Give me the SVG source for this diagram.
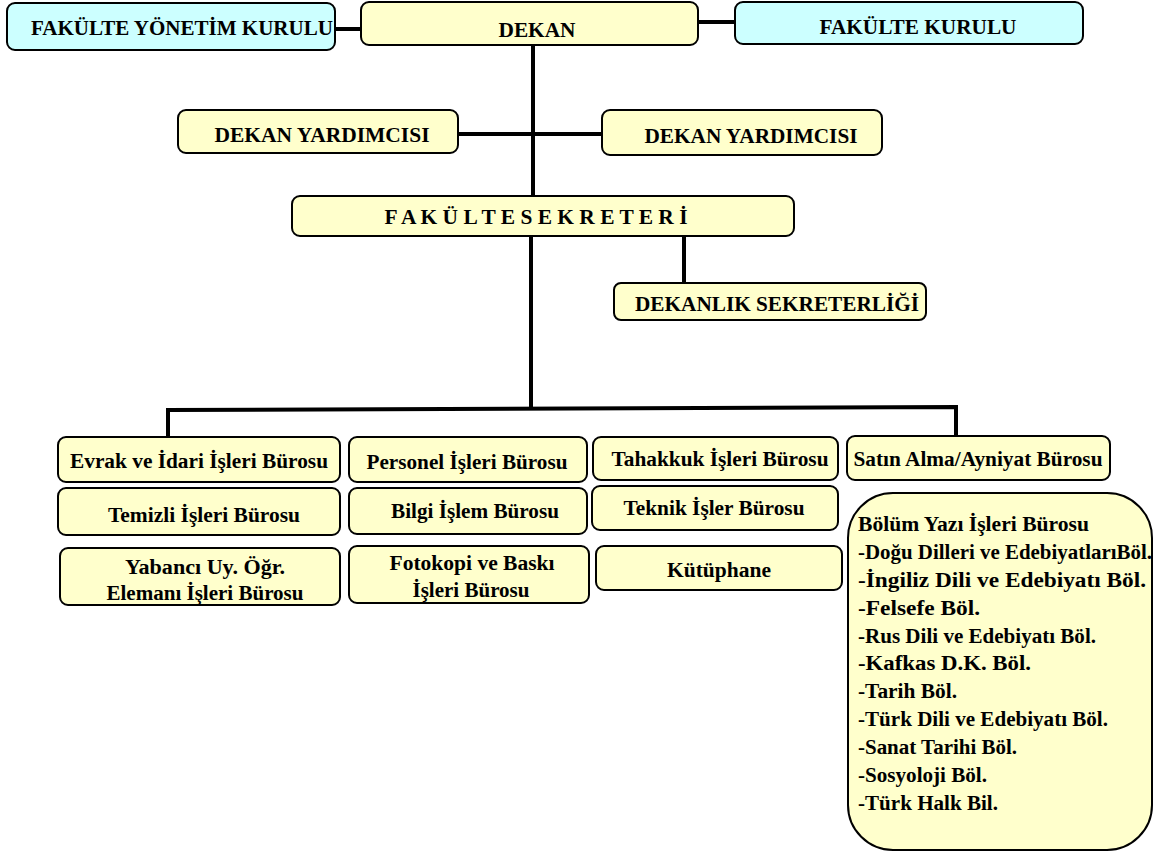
<svg xmlns="http://www.w3.org/2000/svg" width="1157" height="855" viewBox="0 0 1157 855">
<style>
.y{fill:#FFFFCC;stroke:#000;stroke-width:2}
.c{fill:#CCFFFF;stroke:#000;stroke-width:2}
text{font-family:"Liberation Serif","Times New Roman",serif;font-weight:bold;fill:#000;font-size:21px}
.m{text-anchor:middle}
.s{font-size:20px}
.ln{fill:none;stroke:#000;stroke-width:4}
</style>
<rect width="1157" height="855" fill="#fff"/>
<g id="connectors">
<line class="ln" x1="335" y1="29" x2="361" y2="29"/>
<line class="ln" x1="698" y1="22" x2="735" y2="22"/>
<line class="ln" x1="533" y1="45" x2="533" y2="197"/>
<line class="ln" x1="458" y1="134" x2="602" y2="134"/>
<line class="ln" x1="531" y1="236" x2="531" y2="410"/>
<line class="ln" x1="684" y1="236" x2="684" y2="282"/>
<polyline class="ln" points="168,438 168,410 956,407 956,437"/>
</g>
<g id="fyk"><rect class="c" x="7" y="3" width="328" height="47" rx="8"/><text x="31" y="35" textLength="302" lengthAdjust="spacingAndGlyphs">FAKÜLTE YÖNETİM KURULU</text></g>
<g id="dekan"><rect class="y" x="361" y="2" width="337" height="43" rx="8"/><text class="m" x="537" y="37" textLength="77" lengthAdjust="spacingAndGlyphs">DEKAN</text></g>
<g id="fk"><rect class="c" x="735" y="2" width="348" height="42" rx="8"/><text class="m" x="918" y="34" textLength="197" lengthAdjust="spacingAndGlyphs">FAKÜLTE KURULU</text></g>
<g id="dy1"><rect class="y" x="178" y="110" width="280" height="43" rx="8"/><text class="m" x="322" y="142" textLength="215" lengthAdjust="spacingAndGlyphs">DEKAN YARDIMCISI</text></g>
<g id="dy2"><rect class="y" x="602" y="110" width="280" height="45" rx="8"/><text class="m" x="751" y="143" textLength="213" lengthAdjust="spacingAndGlyphs">DEKAN YARDIMCISI</text></g>
<g id="fs"><rect class="y" x="292" y="196" width="502" height="40" rx="8"/><text class="m" x="536" y="224" textLength="303" lengthAdjust="spacingAndGlyphs">F A K Ü L T E S E K R E T E R İ</text></g>
<g id="ds"><rect class="y" x="614" y="283" width="312" height="37" rx="7"/><text class="m" x="777" y="311" textLength="284" lengthAdjust="spacingAndGlyphs">DEKANLIK SEKRETERLİĞİ</text></g>
<g id="evrak"><rect class="y" x="58" y="437" width="282" height="45" rx="8"/><text class="m s" x="199" y="468" textLength="258" lengthAdjust="spacingAndGlyphs">Evrak ve İdari İşleri Bürosu</text></g>
<g id="personel"><rect class="y" x="349" y="437" width="238" height="45" rx="8"/><text class="m s" x="467" y="469" textLength="201" lengthAdjust="spacingAndGlyphs">Personel İşleri Bürosu</text></g>
<g id="tahakkuk"><rect class="y" x="593" y="437" width="245" height="43" rx="8"/><text class="m s" x="720" y="466" textLength="217" lengthAdjust="spacingAndGlyphs">Tahakkuk İşleri Bürosu</text></g>
<g id="satin"><rect class="y" x="847" y="436" width="263" height="44" rx="8"/><text class="m s" x="978" y="466" textLength="249" lengthAdjust="spacingAndGlyphs">Satın Alma/Ayniyat Bürosu</text></g>
<g id="temizli"><rect class="y" x="58" y="488" width="282" height="47" rx="8"/><text class="m s" x="204" y="522" textLength="192" lengthAdjust="spacingAndGlyphs">Temizli İşleri Bürosu</text></g>
<g id="bilgi"><rect class="y" x="349" y="488" width="238" height="46" rx="8"/><text class="m s" x="475" y="518" textLength="168" lengthAdjust="spacingAndGlyphs">Bilgi İşlem Bürosu</text></g>
<g id="teknik"><rect class="y" x="592" y="486" width="246" height="44" rx="8"/><text class="m s" x="714" y="515" textLength="181" lengthAdjust="spacingAndGlyphs">Teknik İşler Bürosu</text></g>
<g id="yabanci"><rect class="y" x="60" y="548" width="280" height="57" rx="8"/><text class="m s" x="205" y="574" textLength="160" lengthAdjust="spacingAndGlyphs">Yabancı Uy. Öğr.</text><text class="m s" x="205" y="600" textLength="197" lengthAdjust="spacingAndGlyphs">Elemanı İşleri Bürosu</text></g>
<g id="fotokopi"><rect class="y" x="349" y="546" width="240" height="57" rx="8"/><text class="m s" x="472" y="570" textLength="165" lengthAdjust="spacingAndGlyphs">Fotokopi ve Baskı</text><text class="m s" x="471" y="597" textLength="117" lengthAdjust="spacingAndGlyphs">İşleri Bürosu</text></g>
<g id="kutuphane"><rect class="y" x="596" y="546" width="246" height="44" rx="8"/><text class="m s" x="719" y="577" textLength="104" lengthAdjust="spacingAndGlyphs">Kütüphane</text></g>
<g id="bolum"><rect class="y" x="848" y="493" width="304" height="357" rx="45"/>
<text class="s" x="858" y="531" textLength="231" lengthAdjust="spacingAndGlyphs">Bölüm Yazı İşleri Bürosu</text>
<text class="s" x="858" y="559" textLength="294" lengthAdjust="spacingAndGlyphs">-Doğu Dilleri ve EdebiyatlarıBöl.</text>
<text class="s" x="858" y="587" textLength="288" lengthAdjust="spacingAndGlyphs">-İngiliz Dili ve Edebiyatı Böl.</text>
<text class="s" x="858" y="615" textLength="122" lengthAdjust="spacingAndGlyphs">-Felsefe Böl.</text>
<text class="s" x="858" y="643" textLength="238" lengthAdjust="spacingAndGlyphs">-Rus Dili ve Edebiyatı Böl.</text>
<text class="s" x="858" y="670" textLength="173" lengthAdjust="spacingAndGlyphs">-Kafkas D.K. Böl.</text>
<text class="s" x="858" y="698" textLength="99" lengthAdjust="spacingAndGlyphs">-Tarih Böl.</text>
<text class="s" x="858" y="726" textLength="250" lengthAdjust="spacingAndGlyphs">-Türk Dili ve Edebiyatı Böl.</text>
<text class="s" x="858" y="754" textLength="159" lengthAdjust="spacingAndGlyphs">-Sanat Tarihi Böl.</text>
<text class="s" x="858" y="782" textLength="129" lengthAdjust="spacingAndGlyphs">-Sosyoloji Böl.</text>
<text class="s" x="858" y="810" textLength="140" lengthAdjust="spacingAndGlyphs">-Türk Halk Bil.</text>
</g>
</svg>
